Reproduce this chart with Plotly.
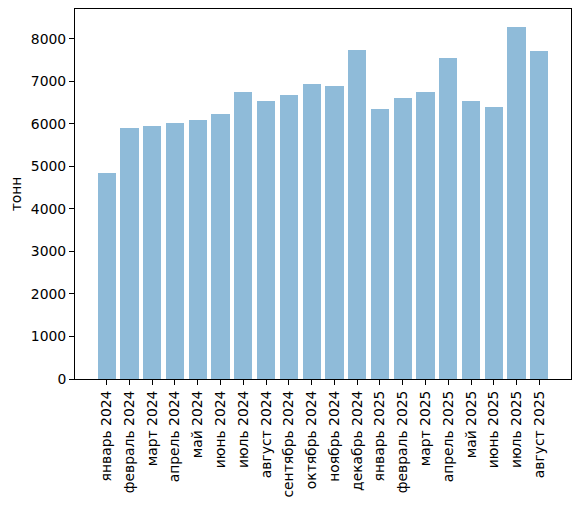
import plotly.graph_objects as go

months = ["январь 2024", "февраль 2024", "март 2024", "апрель 2024", "май 2024",
          "июнь 2024", "июль 2024", "август 2024", "сентябрь 2024", "октябрь 2024",
          "ноябрь 2024", "декабрь 2024", "январь 2025", "февраль 2025", "март 2025",
          "апрель 2025", "май 2025", "июнь 2025", "июль 2025", "август 2025"]
tonnes = [4850, 5910, 5960, 6030, 6100, 6240, 6760, 6550, 6690, 6950,
          6900, 7750, 6360, 6620, 6760, 7560, 6550, 6410, 8290, 7725]
y_ticks = [0, 1000, 2000, 3000, 4000, 5000, 6000, 7000, 8000]

n = len(months)
xs = list(range(n))
ymax = max(tonnes) * 1.05

fig = go.Figure(go.Bar(
    x=xs, y=tonnes, width=0.8,
    marker=dict(color="rgba(31,119,180,0.5)", line=dict(width=0)),
))

font = dict(family="DejaVu Sans", size=13.9, color="black")
fig.update_layout(
    width=580, height=506,
    margin=dict(l=67, r=17, t=1, b=135),
    paper_bgcolor="white", plot_bgcolor="white",
    font=font, showlegend=False, bargap=0,
)
fig.update_xaxes(
    range=[-0.4 - 0.05 * (n - 0.2), n - 1 + 0.4 + 0.05 * (n - 0.2)],
    tickmode="array", tickvals=xs, ticktext=months, tickangle=-90,
    ticks="outside", ticklen=5, tickwidth=1, tickcolor="black",
    showline=True, linecolor="black", linewidth=1, mirror=True,
    showgrid=False, zeroline=False, tickfont=font, automargin=False,
)
fig.update_yaxes(
    range=[0, ymax],
    tickmode="array", tickvals=y_ticks, ticktext=[str(v) for v in y_ticks],
    ticks="outside", ticklen=5, tickwidth=1, tickcolor="black",
    showline=True, linecolor="black", linewidth=1, mirror=True,
    showgrid=False, zeroline=False, tickfont=font, automargin=False,
    title=dict(text="тонн", font=font, standoff=8),
)
fig.write_html("out.html")
